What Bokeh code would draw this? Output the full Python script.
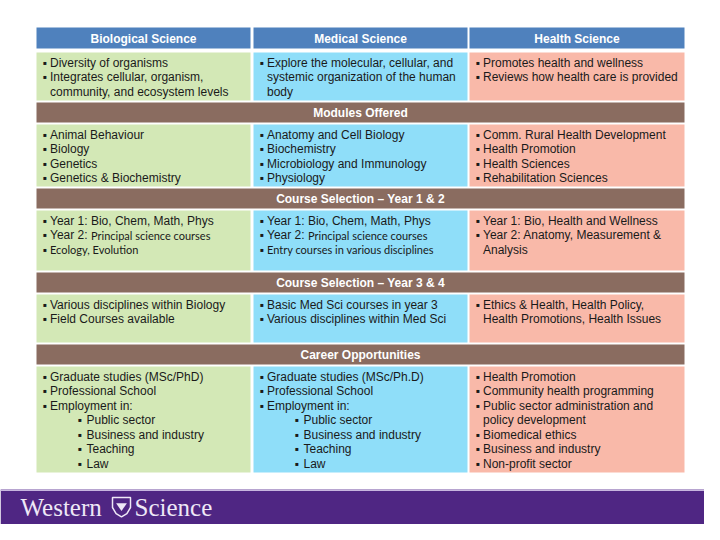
from bokeh.plotting import figure
from bokeh.models import Range1d, ColumnDataSource
from bokeh.core.properties import value
from bokeh.embed import file_html
from bokeh.resources import INLINE

# ---------------- content ----------------
columns = ["Biological Science", "Medical Science", "Health Science"]
column_colors = ["#D3E8B6", "#8FDEF9", "#F9B9A9"]
section_titles = [None, "Modules Offered", "Course Selection \u2013 Year 1 & 2",
                  "Course Selection \u2013 Year 3 & 4", "Career Opportunities"]

# markup: "* " bullet, "> " wrapped continuation, "** " sub-bullet,
# text after "|" is set in the secondary (Calibri-like) font
overview = [
    ["* Diversity of organisms", "* Integrates cellular, organism,", "> community, and ecosystem levels"],
    ["* Explore the molecular, cellular, and", "> systemic organization of the human", "> body"],
    ["* Promotes health and wellness", "* Reviews how health care is provided"],
]
modules = [
    ["* Animal Behaviour", "* Biology", "* Genetics", "* Genetics & Biochemistry"],
    ["* Anatomy and Cell Biology", "* Biochemistry", "* Microbiology and Immunology", "* Physiology"],
    ["* Comm. Rural Health Development", "* Health Promotion", "* Health Sciences", "* Rehabilitation Sciences"],
]
courses_12 = [
    ["* Year 1: Bio, Chem, Math, Phys", "* Year 2: |Principal science courses", "* |Ecology, Evolution"],
    ["* Year 1: Bio, Chem, Math, Phys", "* Year 2: |Principal science courses", "* |Entry courses in various disciplines"],
    ["* Year 1: Bio, Health and Wellness", "* Year 2: Anatomy, Measurement &", "> Analysis"],
]
courses_34 = [
    ["* Various disciplines within Biology", "* Field Courses available"],
    ["* Basic Med Sci courses in year 3", "* Various disciplines within Med Sci"],
    ["* Ethics & Health, Health Policy,", "> Health Promotions, Health Issues"],
]
careers = [
    ["* Graduate studies (MSc/PhD)", "* Professional School", "* Employment in:",
     "** Public sector", "** Business and industry", "** Teaching", "** Law"],
    ["* Graduate studies (MSc/Ph.D)", "* Professional School", "* Employment in:",
     "** Public sector", "** Business and industry", "** Teaching", "** Law"],
    ["* Health Promotion", "* Community health programming", "* Public sector administration and",
     "> policy development", "* Biomedical ethics", "* Business and industry", "* Non-profit sector"],
]
sections = [overview, modules, courses_12, courses_34, careers]
footer_words = ["Western", "Science"]

# ---------------- layout ----------------
col_left = [36, 253, 469]
col_right = [250, 467, 684]
header_band = (27, 48)
band_rows = [None, (102, 122), (188, 208), (272, 292), (344, 364)]
cell_rows = [(52, 100), (124, 186), (210, 270), (294, 342), (366, 472)]
line_step = 14.5
first_line = 10
bullet_dx, text_dx = 6, 13.5
sub_bullet_dx, sub_text_dx = 41, 50
alt_prefix_dx = 41
footer_top, footer_text_y = 489, 507

HEADER_BLUE = "#4F81BD"
BAND_BROWN = "#8A6C60"
PURPLE = "#4F2683"
TEXT = "#1A1A1A"

p = figure(width=704, height=524, x_range=Range1d(0, 704), y_range=Range1d(524, 0),
           output_backend="svg", toolbar_location=None, min_border=0)
p.xaxis.visible = False
p.yaxis.visible = False
p.grid.visible = False
p.outline_line_color = None
p.background_fill_color = "white"
p.border_fill_color = "white"

# header cells
p.quad(left=col_left, right=col_right, top=[header_band[0]] * 3, bottom=[header_band[1]] * 3,
       fill_color=HEADER_BLUE, line_color=None)
hx = [(l + r) / 2 for l, r in zip(col_left, col_right)]
p.text(x=hx, y=[(header_band[0] + header_band[1]) / 2 + 0.5] * 3, text=columns,
       text_font=value("Liberation Sans"), text_font_style="bold", text_font_size="12px",
       text_color="white", text_align="center", text_baseline="middle")

# section bands
bl, br, bt, bb, bx, by, btxt = [], [], [], [], [], [], []
for title, rng in zip(section_titles, band_rows):
    if title is None:
        continue
    bl.append(col_left[0]); br.append(col_right[-1]); bt.append(rng[0]); bb.append(rng[1])
    bx.append((col_left[0] + col_right[-1]) / 2); by.append((rng[0] + rng[1]) / 2 + 0.5)
    btxt.append(title)
p.quad(left=bl, right=br, top=bt, bottom=bb, fill_color=BAND_BROWN, line_color=None)
p.text(x=bx, y=by, text=btxt, text_font=value("Liberation Sans"), text_font_style="bold",
       text_font_size="12px", text_color="white", text_align="center", text_baseline="middle")

# content cells
cl, cr, ct, cb, cc = [], [], [], [], []
main = dict(x=[], y=[], text=[])
alt = dict(x=[], y=[], text=[])
for sec, rng in zip(sections, cell_rows):
    for ci, lines in enumerate(sec):
        cl.append(col_left[ci]); cr.append(col_right[ci]); ct.append(rng[0]); cb.append(rng[1])
        cc.append(column_colors[ci])
        for li, line in enumerate(lines):
            y = rng[0] + first_line + li * line_step
            x0 = col_left[ci]
            if line.startswith("** "):
                bx_, tx_, body, bullet = x0 + sub_bullet_dx, x0 + sub_text_dx, line[3:], True
            elif line.startswith("* "):
                bx_, tx_, body, bullet = x0 + bullet_dx, x0 + text_dx, line[2:], True
            else:
                bx_, tx_, body, bullet = None, x0 + text_dx, line[2:], False
            if "|" in body:
                pre, post = body.split("|", 1)
                target_b = alt if pre == "" else main
                if bullet:
                    target_b["x"].append(bx_); target_b["y"].append(y); target_b["text"].append("\u25aa")
                if pre:
                    main["x"].append(tx_); main["y"].append(y); main["text"].append(pre)
                    alt["x"].append(tx_ + alt_prefix_dx); alt["y"].append(y); alt["text"].append(post)
                else:
                    alt["x"].append(tx_); alt["y"].append(y); alt["text"].append(post)
            else:
                if bullet:
                    main["x"].append(bx_); main["y"].append(y); main["text"].append("\u25aa")
                main["x"].append(tx_); main["y"].append(y); main["text"].append(body)

p.quad(left=cl, right=cr, top=ct, bottom=cb, fill_color=cc, line_color=None)
p.text(x="x", y="y", text="text", source=ColumnDataSource(main),
       text_font=value("Liberation Sans"), text_font_size="12px", text_color=TEXT,
       text_baseline="middle", text_align="left")
p.text(x="x", y="y", text="text", source=ColumnDataSource(alt),
       text_font=value("Lato"), text_font_size="11px", text_color=TEXT,
       text_baseline="middle", text_align="left")

# footer bar
p.quad(left=[0], right=[704], top=[footer_top], bottom=[524], fill_color=PURPLE, line_color=None)
p.quad(left=[0], right=[704], top=[footer_top], bottom=[footer_top + 1.5], fill_color="#C7B6DF",
       line_color=None)
p.text(x=[20], y=[footer_text_y], text=[footer_words[0]], text_font=value("Liberation Serif"),
       text_font_size="25px", text_color="#EEE8F6", text_baseline="middle")
p.text(x=[134], y=[footer_text_y], text=[footer_words[1]], text_font=value("Liberation Serif"),
       text_font_size="25px", text_color="#EEE8F6", text_baseline="middle")
# small crest
cx, cy, s = 121, footer_text_y - 1, 9
shield_x = [cx - s, cx + s, cx + s, cx + s * 0.6, cx, cx - s * 0.6, cx - s]
shield_y = [cy - s, cy - s, cy + 1, cy + s * 0.8, cy + s * 1.15, cy + s * 0.8, cy + 1]
p.patch(shield_x, shield_y, fill_color=PURPLE, line_color="#EEE8F6", line_width=1.5)
p.patch([cx - s * 0.6, cx + s * 0.6, cx], [cy - s * 0.35, cy - s * 0.35, cy + s * 0.5],
        fill_color="#EEE8F6", line_color=None)

open("out.html", "w").write(file_html(p, INLINE))
